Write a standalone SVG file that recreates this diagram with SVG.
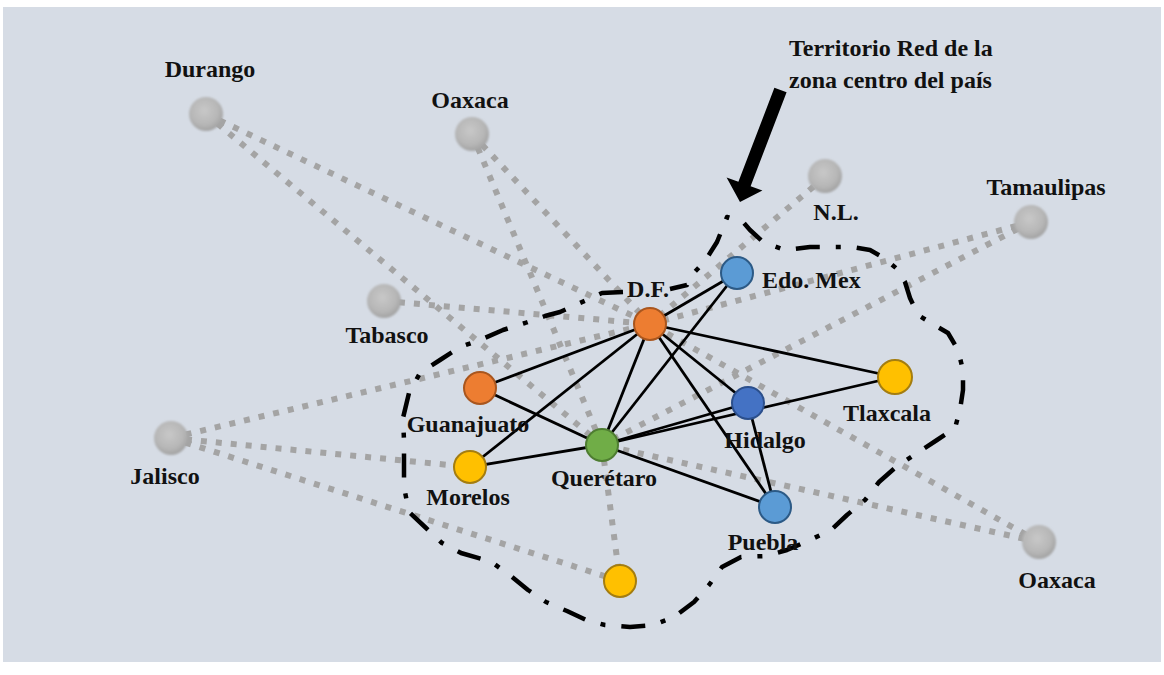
<svg xmlns="http://www.w3.org/2000/svg" width="1164" height="675" viewBox="0 0 1164 675">
  <defs>
    <radialGradient id="gg" cx="45%" cy="40%" r="60%">
      <stop offset="0%" stop-color="#c8c8c8"/>
      <stop offset="70%" stop-color="#b6b6b6"/>
      <stop offset="100%" stop-color="#a2a2a2"/>
    </radialGradient>
    <filter id="soft" x="-30%" y="-30%" width="160%" height="160%">
      <feGaussianBlur stdDeviation="1"/>
    </filter>
  </defs>
  <style>
    .bg { fill: #d6dce5; }
    .gray { stroke: #a4a4a4; stroke-width: 6; stroke-dasharray: 6 9; fill: none; }
    .edge { stroke: #000; stroke-width: 2.8; fill: none; }
    .bound { stroke: #000; stroke-width: 4.5; fill: none; stroke-dasharray: 24 16 5 16; stroke-linejoin: round; }
    .gnode { fill: url(#gg); filter: url(#soft); }
    .node { stroke-width: 2; }
    .orange { fill: #ed7d31; stroke: #a9561e; }
    .yellow { fill: #ffc000; stroke: #a47d10; }
    .green { fill: #70ad47; stroke: #4e7d31; }
    .lblue { fill: #5b9bd5; stroke: #2c5a86; }
    .dblue { fill: #4472c4; stroke: #2b4f8c; }
    text { font-family: "Liberation Serif", "Times New Roman", serif; font-weight: bold; font-size: 24px; fill: #111; }
    .mid { text-anchor: middle; }
  </style>

  <rect x="0" y="0" width="1164" height="675" fill="#ffffff"/>
  <rect class="bg" x="3" y="7" width="1158" height="655"/>

  <g id="connectors">
    <!-- gray dotted links -->
    <line class="gray" x1="206" y1="114" x2="650" y2="324"/>
    <line class="gray" x1="206" y1="114" x2="602" y2="445"/>
    <line class="gray" x1="472" y1="134" x2="650" y2="324"/>
    <line class="gray" x1="472" y1="134" x2="602" y2="445"/>
    <line class="gray" x1="384" y1="301" x2="650" y2="324"/>
    <line class="gray" x1="171" y1="438" x2="650" y2="324"/>
    <line class="gray" x1="171" y1="438" x2="470" y2="467"/>
    <line class="gray" x1="171" y1="438" x2="620" y2="581"/>
    <line class="gray" x1="602" y1="445" x2="620" y2="581"/>
    <line class="gray" x1="825" y1="177" x2="650" y2="324"/>
    <line class="gray" x1="1031" y1="222" x2="650" y2="324"/>
    <line class="gray" x1="1031" y1="222" x2="602" y2="445"/>
    <line class="gray" x1="1039" y1="542" x2="650" y2="324"/>
    <line class="gray" x1="1039" y1="542" x2="602" y2="445"/>
    <!-- black solid links -->
    <line class="edge" x1="650" y1="324" x2="737" y2="273"/>
    <line class="edge" x1="650" y1="324" x2="480" y2="388"/>
    <line class="edge" x1="650" y1="324" x2="470" y2="467"/>
    <line class="edge" x1="650" y1="324" x2="602" y2="445"/>
    <line class="edge" x1="650" y1="324" x2="895" y2="377"/>
    <line class="edge" x1="650" y1="324" x2="748" y2="403"/>
    <line class="edge" x1="650" y1="324" x2="775" y2="507"/>
    <line class="edge" x1="602" y1="445" x2="737" y2="273"/>
    <line class="edge" x1="602" y1="445" x2="480" y2="388"/>
    <line class="edge" x1="602" y1="445" x2="470" y2="467"/>
    <line class="edge" x1="602" y1="445" x2="748" y2="403"/>
    <line class="edge" x1="602" y1="445" x2="895" y2="377"/>
    <line class="edge" x1="602" y1="445" x2="775" y2="507"/>
    <line class="edge" x1="748" y1="403" x2="775" y2="507"/>
  </g>

  <g id="territorio">
    <path class="bound" d="M 623,292 L 602,293 L 580,303 L 560,312 L 545,316 L 525,323 L 503,330 L 480,340 L 460,347 L 440,360 L 420,373 L 409,393 L 403,418 L 404,440 L 404,463 L 404,487 L 409,512 L 425,527 L 442,543 L 461,553 L 482,559 L 493,563 L 512,577 L 528,590 L 546,602 L 567,611 L 586,620 L 605,625 L 630,627 L 653,625 L 674,617 L 694,602 L 709,585 L 722,567 L 741,557 L 766,556 L 787,550 L 810,540 L 831,530 L 847,515 L 865,500 L 879,482 L 896,467 L 917,453 L 937,440 L 955,428 L 960,410 L 963,390 L 963,370 L 958,350 L 948,333 L 931,323 L 918,315 L 910,298 L 905,282 L 896,268 L 884,258 L 870,250 L 852,247 L 832,247 L 810,247 L 785,250 L 763,242 L 750,230 L 743,222 L 727,217 L 717,242 L 705,261 L 690,277 L 687,285 L 670,289"/>
    <polygon points="774.4,87.8 786.6,92.2 750.6,186.2 762.4,190.5 740,202 726.6,177.5 738.4,181.8" fill="#000"/>
    <text x="789" y="56">Territorio Red de la</text>
    <text x="789" y="88">zona centro del país</text>
  </g>

  <g id="durango"><circle class="gnode" cx="206" cy="114" r="17"/><text class="mid" x="210" y="77">Durango</text></g>
  <g id="oaxaca-norte"><circle class="gnode" cx="472" cy="134" r="17"/><text class="mid" x="470" y="108">Oaxaca</text></g>
  <g id="tabasco"><circle class="gnode" cx="384" cy="301" r="17"/><text class="mid" x="387" y="343">Tabasco</text></g>
  <g id="jalisco"><circle class="gnode" cx="171" cy="438" r="17"/><text class="mid" x="165" y="484">Jalisco</text></g>
  <g id="nl"><circle class="gnode" cx="825" cy="176" r="17"/><text class="mid" x="836" y="220">N.L.</text></g>
  <g id="tamaulipas"><circle class="gnode" cx="1031" cy="222" r="17"/><text class="mid" x="1046" y="195">Tamaulipas</text></g>
  <g id="oaxaca-sur"><circle class="gnode" cx="1039" cy="542" r="17"/><text class="mid" x="1057" y="588">Oaxaca</text></g>

  <g id="df"><circle class="node orange" cx="650" cy="324" r="16"/><text class="mid" x="648" y="297">D.F.</text></g>
  <g id="edomex"><circle class="node lblue" cx="737" cy="273" r="16"/><text x="762" y="288">Edo. Mex</text></g>
  <g id="guanajuato"><circle class="node orange" cx="480" cy="388" r="16"/><text class="mid" x="468" y="432">Guanajuato</text></g>
  <g id="morelos"><circle class="node yellow" cx="470" cy="467" r="16"/><text class="mid" x="468" y="505">Morelos</text></g>
  <g id="queretaro"><circle class="node green" cx="602" cy="445" r="16"/><text class="mid" x="604" y="486">Querétaro</text></g>
  <g id="hidalgo"><circle class="node dblue" cx="748" cy="403" r="16"/><text class="mid" x="765" y="448">Hidalgo</text></g>
  <g id="tlaxcala"><circle class="node yellow" cx="895" cy="377" r="17"/><text class="mid" x="887" y="421">Tlaxcala</text></g>
  <g id="puebla"><circle class="node lblue" cx="775" cy="507" r="16"/><text class="mid" x="763" y="550">Puebla</text></g>
  <g id="sin-nombre"><circle class="node yellow" cx="620" cy="581" r="16"/></g>
</svg>
